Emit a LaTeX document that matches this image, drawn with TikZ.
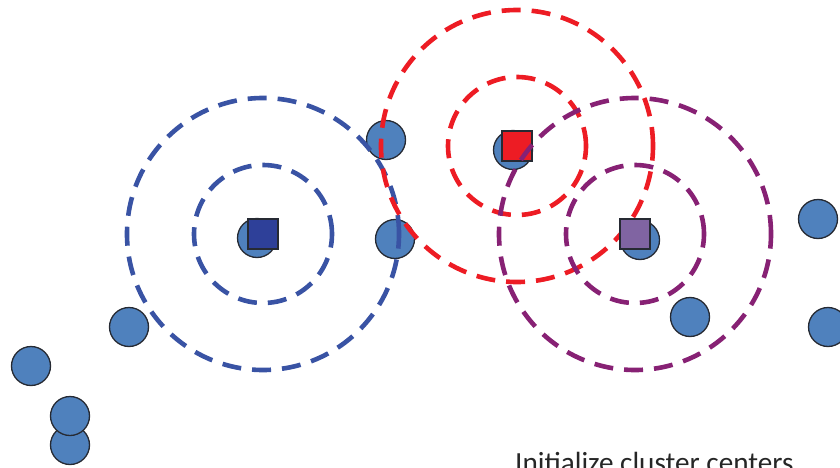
\documentclass[tikz,border=0pt]{standalone}
\usepackage{fontspec}
\setmainfont{Carlito}
\definecolor{ptfill}{HTML}{4F81BD}
\definecolor{ptline}{HTML}{262A33}
\definecolor{bluedashc}{HTML}{3953A4}
\definecolor{bluesq}{HTML}{2E4099}
\definecolor{reddashc}{HTML}{ED1C24}
\definecolor{purpledashc}{HTML}{872174}
\definecolor{purplesq}{HTML}{8064A2}
\tikzset{
  datapt/.style={circle, draw=ptline, fill=ptfill, line width=1.3pt, minimum size=39pt, inner sep=0pt},
  ctrsq/.style={rectangle, draw=ptline, line width=1.3pt, minimum size=30pt, inner sep=0pt},
  ring/.style={line width=4.6pt, dash pattern=on 19pt off 11pt},
}
\begin{document}
\begin{tikzpicture}[x=1pt,y=-1pt]
\useasboundingbox (0,0) rectangle (840,468);
\clip (0,0) rectangle (840,468);
% data points
\node[datapt] (p1) at (257,238) {};
\node[datapt] (p2) at (395,239) {};
\node[datapt] (p3) at (386,140) {};
\node[datapt] (p4) at (513,150) {};
\node[datapt] (p5) at (640,240) {};
\node[datapt] (p6) at (690,317) {};
\node[datapt] (p7) at (818,219) {};
\node[datapt] (p8) at (828,327) {};
\node[datapt] (p9) at (129,327) {};
\node[datapt] (p10) at (31,366) {};
\node[datapt] (p11) at (70,445) {};
\node[datapt] (p12) at (70,416) {};
% centers
\coordinate (cb) at (263,234);
\coordinate (cr) at (517,146);
\coordinate (cp) at (635,234);
% blue cluster
\draw[ring, draw=bluedashc] (cb) circle (136pt);
\draw[ring, draw=bluedashc] (cb) circle (69pt);
\node[ctrsq, fill=bluesq] (sb) at (cb) {};
% red cluster
\draw[ring, draw=reddashc] (cr) circle (136pt);
\draw[ring, draw=reddashc] (cr) circle (69pt);
\node[ctrsq, fill=reddashc] (sr) at (cr) {};
% purple cluster
\draw[ring, draw=purpledashc] (cp) circle (136pt);
\draw[ring, draw=purpledashc] (cp) circle (69pt);
\node[ctrsq, fill=purplesq] (sp) at (cp) {};
% caption (cut off at the bottom edge, as in the reference)
\node[anchor=base west, inner sep=0pt, text=black!85] (cap) at (515,472) {\fontsize{29.2}{32}\selectfont Initialize cluster centers};
\end{tikzpicture}
\end{document}
